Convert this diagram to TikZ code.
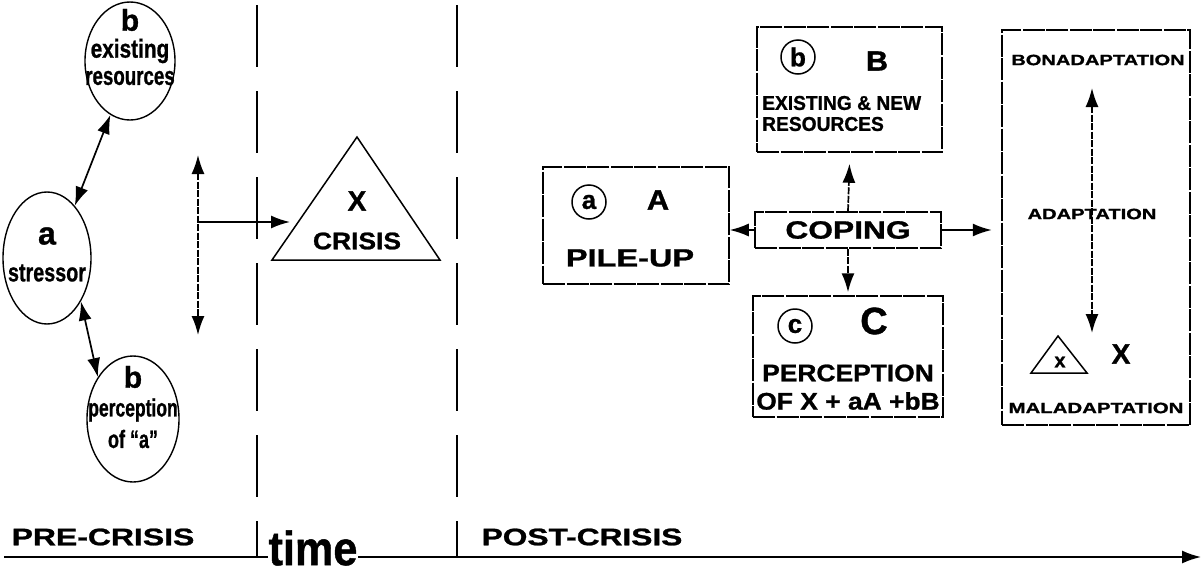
\documentclass[tikz,border=0pt]{standalone}
\usepackage{graphicx}
\usepackage{fontspec}
\setmainfont{Liberation Sans}[BoldFeatures={FakeBold=1}]
\usetikzlibrary{arrows.meta,shapes.geometric}

% bold sans at a given size, optionally squeezed or widened horizontally
\newcommand\fsz[1]{\fontsize{#1}{#1}\selectfont\bfseries}
\newcommand\sx[2]{\scalebox{#1}[1]{#2}}

\begin{document}
\begin{tikzpicture}[x=1pt,y=-1pt,
  lbl/.style={inner sep=0pt, font=\fsz{#1}},
  oval/.style={draw, ellipse, line width=1.4pt, inner sep=0pt},
  panel/.style={draw, line width=1.5pt, inner sep=0pt, dash pattern=on 22pt off 1.5pt},
  ring/.style={draw, circle, line width=1.5pt, minimum size=34pt, inner sep=0pt},
  tip/.style={-{Latex[length=19pt,width=13pt]}, line width=1.7pt},
  twotip/.style={{Latex[length=19pt,width=13pt]}-{Latex[length=19pt,width=13pt]}, line width=1.7pt},
  brokenline/.style={dash pattern=on 7pt off 1.5pt},
  divider/.style={line width=1.2pt, dash pattern=on 62pt off 24pt}]
\useasboundingbox (0,0) rectangle (1203,573);

% ---------- pre-crisis ovals ----------
\node[oval, minimum width=90pt, minimum height=118pt] (eb1) at (130,61) {};
\node[lbl=30] at (130,20) {b};
\node[lbl=26] at (130,51) {\sx{0.8}{existing}};
\node[lbl=26] at (130,78) {\sx{0.72}{resources}};

\node[oval, minimum width=88pt, minimum height=132pt] (ea) at (47,258) {};
\node[lbl=32] at (47,236) {a};
\node[lbl=26] at (47,273) {\sx{0.76}{stressor}};

\node[oval, minimum width=92pt, minimum height=126pt] (eb2) at (133,419) {};
\node[lbl=30] at (133,377) {b};
\node[lbl=25] at (133,410) {\sx{0.7}{perception}};
\node[lbl=25] at (133,439) {\sx{0.72}{of “a”}};

\draw[twotip] (ea.62) -- (eb1.250);
\draw[twotip] (ea.-52) -- (eb2.130);

% stressor pathway into the crisis
\coordinate (vt) at (198,155);
\coordinate (vb) at (198,335);
\coordinate (vj) at (198,222);
\draw[twotip, brokenline] (vt) -- (vb);

% ---------- crisis triangle ----------
\coordinate (tA) at (357,137);
\coordinate (tL) at (272,260);
\coordinate (tR) at (440,260);
\coordinate (tin) at (290,222);
\draw[line width=1.5pt] (tA) -- (tL) -- (tR) -- cycle;
\node[lbl=28] at (357,201) {X};
\node[lbl=24] at (357,241) {\sx{1.1}{CRISIS}};
\draw[tip] (vj) -- (tin);

% ---------- time dividers ----------
\coordinate (d1t) at (257,5);
\coordinate (d1b) at (257,557);
\coordinate (d2t) at (457,5);
\coordinate (d2b) at (457,557);
\draw[divider] (d1t) -- (d1b);
\draw[divider] (d2t) -- (d2b);

% ---------- post-crisis boxes ----------
\node[panel, minimum width=186pt, minimum height=117pt] (boxA) at (636,225.5) {};
\node[ring] (ra) at (589,202) {};
\node[lbl=26] at (ra) {a};
\node[lbl=28] at (658,200) {\sx{1.1}{A}};
\node[lbl=25] at (630,258) {\sx{1.3}{PILE-UP}};

\node[panel, minimum width=185pt, minimum height=125pt] (boxB) at (849.5,89.5) {};
\node[ring] (rb) at (798,57) {};
\node[lbl=26] at (rb) {b};
\node[lbl=28] at (877,61) {\sx{1.1}{B}};
\node[lbl=20, anchor=west] at (762,103) {\sx{0.96}{EXISTING \& NEW}};
\node[lbl=20, anchor=west] at (762,124) {\sx{0.96}{RESOURCES}};

\node[panel, minimum width=186pt, minimum height=36pt] (cope) at (848,230) {};
\node[lbl=25] at (cope) {\sx{1.27}{COPING}};

\node[panel, minimum width=190pt, minimum height=121pt] (boxC) at (848,356.5) {};
\node[ring] (rc) at (795,326) {};
\node[lbl=26] at (rc) {c};
\node[lbl=38] at (874,321) {C};
\node[lbl=24] at (848,373) {\sx{1.1}{PERCEPTION}};
\node[lbl=24] at (848,401) {\sx{1.1}{OF X + aA +bB}};

\draw[tip, brokenline] (cope.north) -- ([yshift=-11pt]boxB.south);
\draw[tip, brokenline] (cope.south) -- ([yshift=3pt]boxC.north);
\draw[tip] (cope.west) -- (cope.west -| boxA.east);
\draw[tip] (cope.east) -- ++(50,0) coordinate (ce);

% ---------- outcome column ----------
\node[panel, minimum width=188pt, minimum height=395pt] (boxD) at (1096,227.5) {};
\node[lbl=15] (bon) at (1098,60) {\sx{1.34}{BONADAPTATION}};
\node[lbl=15] (mid) at (1092,214) {\sx{1.34}{ADAPTATION}};
\node[lbl=15] (mal) at (1096,408) {\sx{1.36}{MALADAPTATION}};
\coordinate (at) at (1092,88);
\coordinate (ab) at (1092,333);
\draw[twotip, brokenline] (at) -- (ab);
\coordinate (sA) at (1058,336);
\coordinate (sL) at (1031,373);
\coordinate (sR) at (1087,373);
\draw[line width=1.5pt] (sA) -- (sL) -- (sR) -- cycle;
\node[lbl=20] at (1060,362) {x};
\node[lbl=28] at (1121,354) {X};

% ---------- time axis ----------
\coordinate (ax0) at (4,557);
\coordinate (ax1) at (1201,557);
\draw[tip] (ax0) -- (ax1);
\node[lbl=48, fill=white, inner xsep=1pt] at (313,548) {\sx{0.9}{time}};
\node[lbl=24] at (103,537) {\sx{1.33}{PRE-CRISIS}};
\node[lbl=24] at (582,537) {\sx{1.32}{POST-CRISIS}};
\end{tikzpicture}
\end{document}
